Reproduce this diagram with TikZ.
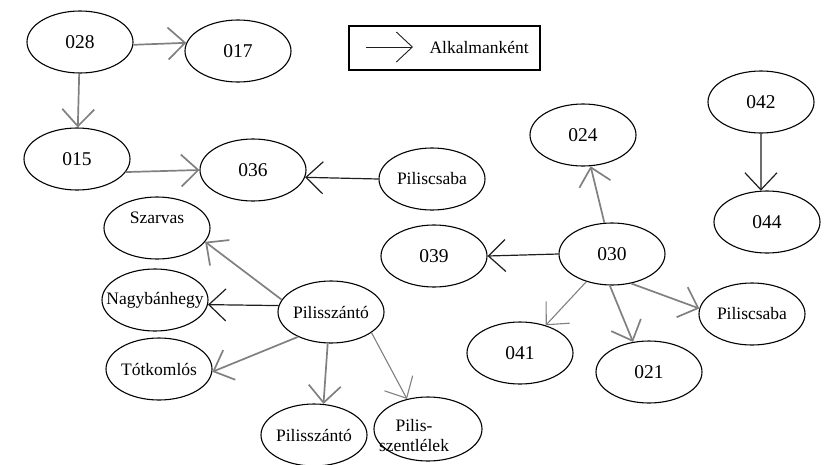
\documentclass[tikz,border=0pt]{standalone}
\usepackage{fontspec}
\setmainfont{Liberation Serif}
\usetikzlibrary{shapes.geometric,arrows.meta}
\definecolor{edgegray}{RGB}{128,128,128}
\definecolor{edgedark}{RGB}{30,30,30}
\tikzset{
  ell/.style={ellipse, draw=black, line width=1.1pt, inner sep=0pt, minimum width=106pt, minimum height=62pt},
  numtxt/.style={font=\fontsize{19.5}{20}\selectfont},
  nametxt/.style={font=\fontsize{17.5}{20}\selectfont},
  arrowtip/.style={-{Straight Barb[length=17pt,width=32pt]}},
  gedge/.style={arrowtip, draw=edgegray, line width=1.7pt},
  gthin/.style={arrowtip, draw=edgegray, line width=1.1pt},
  bedge/.style={arrowtip, draw=edgedark, line width=1.2pt},
}
\begin{document}
\begin{tikzpicture}[x=1pt,y=-1pt]
\useasboundingbox (0,0) rectangle (825,464);
% legend
\node[draw=black, line width=1.1pt, minimum width=191pt, minimum height=44pt, inner sep=0pt] (legend) at (444.5,48) {};
\coordinate (la) at (366,47);
\coordinate (lb) at (413,47);
\draw[-{Straight Barb[length=16pt,width=30pt]}, draw=edgedark, line width=0.9pt] (la) -- (lb);
\node[nametxt, anchor=west] (legtxt) at (426,47) {Alkalmanként};
% nodes
\node[ell, label={[numtxt]center:028}] (n028) at (80,42) {};
\node[ell, label={[numtxt]center:017}] (n017) at (238,51) {};
\node[ell, label={[numtxt]center:015}] (n015) at (77,159) {};
\node[ell, label={[numtxt]center:036}] (n036) at (253,170) {};
\node[ell, label={[nametxt]center:Piliscsaba}] (pcsA) at (432,179) {};
\node[ell, label={[numtxt]center:042}] (n042) at (761,102) {};
\node[ell, label={[numtxt]center:044}] (n044) at (767,222) {};
\node[ell, label={[numtxt]center:024}] (n024) at (583,135) {};
\node[ell, label={[numtxt]center:030}] (n030) at (612,254) {};
\node[ell, label={[numtxt]center:039}] (n039) at (434,256) {};
\node[ell, label={[nametxt]center:Piliscsaba}] (pcsB) at (752,314) {};
\node[ell, label={[numtxt]center:041}] (n041) at (520,353) {};
\node[ell, label={[numtxt]center:021}] (n021) at (649,372) {};
\node[ell, label={[nametxt,yshift=10pt]center:Szarvas}] (szarvas) at (157,228) {};
\node[ell, label={[nametxt]center:Nagybánhegy}] (nagy) at (155,300) {};
\node[ell, label={[nametxt]center:Tótkomlós}] (totk) at (159,369) {};
\node[ell, label={[nametxt]center:Pilisszántó}] (pszA) at (331,312) {};
\node[ell, label={[nametxt]center:Pilisszántó}] (pszB) at (314,435) {};
\node[ell, minimum width=108pt, minimum height=64pt] (pszl) at (428,429) {};
\node[nametxt, align=center, inner sep=0pt] (pszltxt) at (414,436) {Pilis-\\szentlélek};
% edges
\draw[gedge] (n028.-3) -- (n017.171);
\draw[gedge] (n028) -- (n015);
\draw[gedge] (n015.-15) -- (n036.west);
\draw[bedge] (pcsA.west) -- (n036.-8);
\draw[gedge] (n030) -- (n024);
\draw[bedge] (n030.west) -- (n039.east);
\draw[gthin] (n030) -- (n041);
\draw[gedge] (n030.-94) -- (n021.118);
\draw[gedge] (n030.-57) -- (pcsB.174);
\draw[bedge] (n042.south) -- (n044.101);
\draw[gedge] (pszA.166) -- (szarvas.-16);
\draw[bedge] (pszA.173) -- (nagy.-5);
\draw[gedge] (pszA.-143) -- (totk.-3);
\draw[gedge] (pszA.-96) -- (pszB.73);
\draw[gthin] (pszA.-27) -- (pszl.125);
\end{tikzpicture}
\end{document}
